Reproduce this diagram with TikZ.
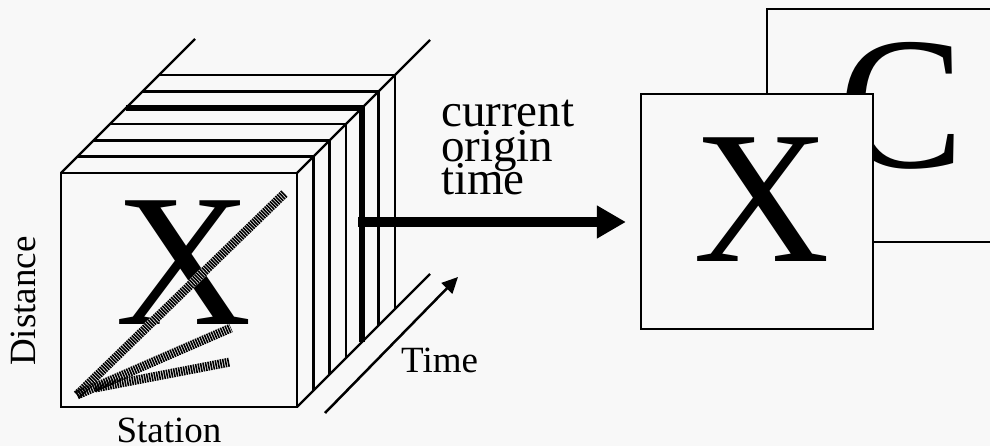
\documentclass[tikz,border=0pt]{standalone}
\usepackage{fontspec}
\setmainfont{Liberation Serif}
\usetikzlibrary{arrows.meta}
\definecolor{bg}{RGB}{248,248,248}
\begin{document}
\begin{tikzpicture}[x=1pt,y=-1pt,
  edge/.style={line width=2.4pt},
  thickedge/.style={line width=6pt},
  boxline/.style={line width=2.2pt},
  bigletter/.style={inner sep=0pt, font=\fontsize{189}{189}\selectfont},
  label/.style={inner sep=0pt, font=\fontsize{37}{37}\selectfont},
  note/.style={inner sep=0pt, anchor=base west, font=\fontsize{47}{34}\selectfont},
  stripeunder/.style={line width=9pt, draw=bg},
  stripe/.style={line width=9pt, dash pattern=on 1.6pt off 0.9pt}]
\fill[bg] (0,0) rectangle (990,446);
\useasboundingbox (0,0) rectangle (990,446);

% cube slices
\foreach \k in {1,...,6} {
  \pgfmathsetmacro\d{\k*16.3}
  \draw[edge] (61+\d,173-\d) -- (297+\d,173-\d);
  \draw[edge] (297+\d,173-\d) -- (297+\d,407-\d);
}
% current slice
\draw[thickedge, line join=miter] (126.2,107.8) -- (362.2,107.8) -- (362.2,341.8);
% front face and long edges
\draw[edge, fill=bg] (61,173) rectangle (297,407);
\draw[edge] (61,173) -- (195,39);
\draw[edge] (297,173) -- (430,40);
\draw[edge] (297,407) -- (430,274);

% data on the front face
\node[bigletter] (cubex) at (184,262.5) {X};
\draw[stripeunder] (77,395) -- (285,193);
\draw[stripeunder] (77,395) -- (231,328);
\draw[stripeunder] (95,388) -- (230,362);
\draw[stripe] (77,395) -- (285,193);
\draw[stripe] (77,395) -- (231,328);
\draw[stripe] (95,388) -- (230,362);

% labels of the cube
\node[label, rotate=90, anchor=base] (dist) at (35,301) {Distance};
\node[label, anchor=base] (stat) at (169,442.5) {Station};
\node[label, anchor=base west] (timelbl) at (401,372) {Time};
\coordinate (ta) at (325,413);
\coordinate (tb) at (458,277);
\draw[line width=2.5pt, -{Triangle[length=16pt 0, width=15pt 0]}] (ta) -- (tb);

% right panels
\draw[boxline] (767,9) rectangle (1010,242);
\node[bigletter] (cletter) at (902,106) {C};
\node[boxline, draw, fill=bg, minimum width=232pt, minimum height=235pt, inner sep=0pt] (xbox) at (757,211.5) {};
\node[bigletter] (xletter) at (762,199.5) {X};

% current origin time arrow
\coordinate (tap) at (358,222);
\draw[line width=10pt, shorten >=14pt, -{Triangle[length=29pt 0, width=31pt 0]}] (tap) -- (tap -| xbox.west);
\node[note] (n1) at (441,127) {current};
\node[note] (n2) at (441,162) {origin};
\node[note] (n3) at (441,195) {time};
\end{tikzpicture}
\end{document}
